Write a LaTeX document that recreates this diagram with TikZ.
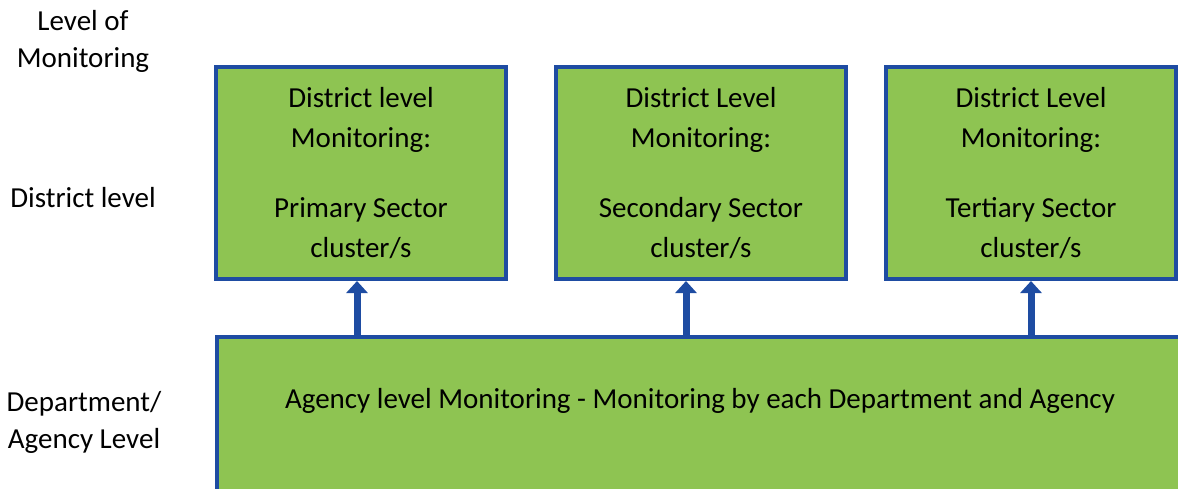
\documentclass[tikz,border=0pt]{standalone}
\usepackage{fontspec}
\setmainfont{Carlito}
\usetikzlibrary{arrows.meta}
\definecolor{boxgreen}{RGB}{142,196,82}
\definecolor{boxblue}{RGB}{30,76,162}
\tikzset{lvl/.style={align=center, font=\fontsize{29}{37}\selectfont},
  bx/.append style={draw=boxblue, line width=4pt, fill=boxgreen, minimum width=290pt,
    minimum height=212pt, align=center, font=\fontsize{29}{40}\selectfont},
  up/.style={draw=boxblue, line width=7pt, -{Triangle[width=21pt,length=12pt]}}}

\begin{document}
\begin{tikzpicture}[x=1pt,y=-1pt]
            \useasboundingbox (0,0) rectangle (1178,488);
            \clip (0,0) rectangle (1178,488);
            % levels on the left
            \node[lvl] (lvtop) at (83,41) {Level of\\Monitoring};
            \node[lvl] (lvdist) at (83,198) {District level};
            \node[lvl] (lvdept) at (84,422) {Department/\\Agency Level};
            % district boxes
            \node[bx] (prim) at (361,173) {District level\\Monitoring:\\[30pt]Primary Sector\\cluster/s};
            \node[bx] (sec) at (701,173) {District Level\\Monitoring:\\[30pt]Secondary Sector\\cluster/s};
            \node[bx] (ter) at (1031,173) {District Level\\Monitoring:\\[30pt]Tertiary Sector\\cluster/s};
            % agency box
            \node[bx, minimum width=990pt, minimum height=160pt] (agency) at (712,417) {};
            \node[lvl] (agtext) at (700,401) {Agency level Monitoring - Monitoring by each Department and Agency};
            \draw[up] ([xshift=-4pt]prim.south |- agency.north) -- ([xshift=-4pt]prim.south);
            \draw[up] ([xshift=-15pt]sec.south |- agency.north) -- ([xshift=-15pt]sec.south);
            \draw[up] (ter.south |- agency.north) -- (ter.south);
        \end{tikzpicture}
\end{document}
